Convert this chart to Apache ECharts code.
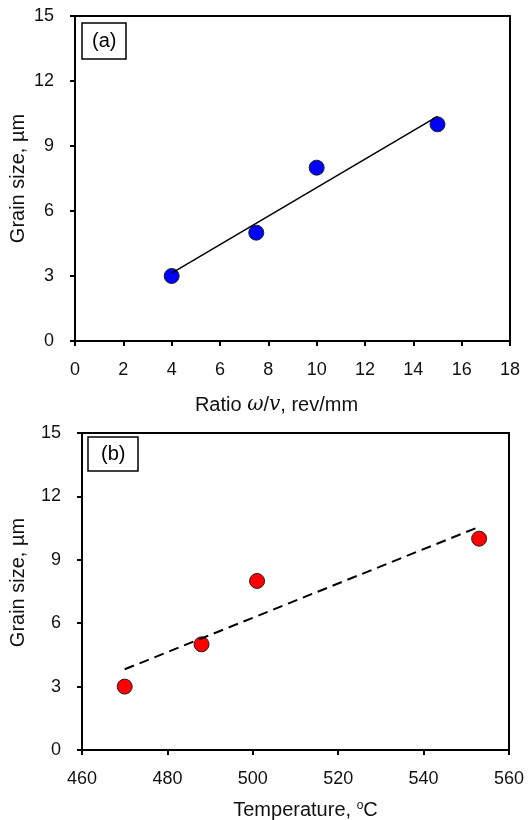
<!DOCTYPE html>
<html>
<head>
<meta charset="utf-8">
<script src="https://cdn.jsdelivr.net/npm/echarts@6/dist/echarts.min.js"></script>
<style>
  html, body { margin: 0; padding: 0; background: #fff; }
  #chart { width: 528px; height: 820px; }
</style>
</head>
<body>
<div id="chart"></div>
<script>
// panel (a): grain size vs ratio
var ratio = [4, 7.5, 10, 15];
var grainA = [3, 5, 8, 10];
var trendA = [[4, 3.13], [15, 10.37]];

// panel (b): grain size vs temperature
var temperature = [470, 488, 501, 553];
var grainB = [3, 5, 8, 10];
var trendB = [[470, 3.82], [553, 10.56]];

var 字体 = 'Liberation Sans';

function 点(xs, ys) {
    var arr = [];
    for (var i = 0; i < xs.length; i++) arr.push([xs[i], ys[i]]);
    return arr;
}

function 坐标轴(opt) {
    return {
        type: 'value',
        gridIndex: opt.grid,
        min: opt.min,
        max: opt.max,
        interval: opt.interval,
        name: opt.name,
        nameLocation: 'middle',
        nameGap: opt.nameGap,
        nameRotate: opt.rotate,
        nameMoveOverlap: false,
        nameTextStyle: { fontFamily: 字体, fontSize: 20, color: '#111', rich: opt.rich, padding: opt.pad || 0 },
        axisLine: { show: true, onZero: false, lineStyle: { color: '#000', width: 2 } },
        axisTick: { show: true, inside: false, length: 5, lineStyle: { color: '#000', width: 2 } },
        axisLabel: { fontFamily: 字体, fontSize: 18, color: '#111', margin: opt.margin },
        splitLine: { show: false }
    };
}

var myChart = echarts.init(document.getElementById('chart'));

var option = {
    animation: false,
    backgroundColor: '#fff',
    title: [
        {
            text: '(a)', left: 82, top: 23,
            padding: [8, 10, 8, 10],
            borderColor: '#000', borderWidth: 1.5,
            textStyle: { fontFamily: 字体, fontSize: 20, fontWeight: 'normal', color: '#000' }
        },
        {
            text: '(b)', left: 88, top: 437,
            padding: [7, 13, 7, 13],
            borderColor: '#000', borderWidth: 1.5,
            textStyle: { fontFamily: 字体, fontSize: 20, fontWeight: 'normal', color: '#000' }
        }
    ],
    grid: [
        { left: 75, top: 16, width: 435, height: 325, show: true, borderColor: '#000', borderWidth: 2,
          containLabel: false, outerBoundsMode: 'none' },
        { left: 82, top: 433, width: 427, height: 317, show: true, borderColor: '#000', borderWidth: 2,
          containLabel: false, outerBoundsMode: 'none' }
    ],
    xAxis: [
        坐标轴({ grid: 0, min: 0, max: 18, interval: 2, nameGap: 54, margin: 20, pad: [0, 32, 0, 0],
            name: 'Ratio {i|ω}/{i|v}, rev/mm',
            rich: { i: { fontFamily: 'DejaVu Serif', fontStyle: 'italic', fontSize: 20, color: '#111' } } }),
        坐标轴({ grid: 1, min: 460, max: 560, interval: 20, nameGap: 50, margin: 20, pad: [0, 0, 0, 20],
            name: 'Temperature, {s|o}C',
            rich: { s: { fontFamily: 字体, fontSize: 12, verticalAlign: 'top', padding: [0, 0, 9, 0], color: '#111' } } })
    ],
    yAxis: [
        坐标轴({ grid: 0, min: 0, max: 15, interval: 3, nameGap: 47, margin: 21, rotate: 90,
            name: 'Grain size, µm' }),
        坐标轴({ grid: 1, min: 0, max: 15, interval: 3, nameGap: 54, margin: 21, rotate: 90, pad: [0, 0, 0, 18],
            name: 'Grain size, µm' })
    ],
    series: [
        {
            type: 'line', xAxisIndex: 0, yAxisIndex: 0,
            data: trendA, symbol: 'none', silent: true,
            lineStyle: { color: '#000', width: 1.5 }
        },
        {
            type: 'scatter', xAxisIndex: 0, yAxisIndex: 0,
            data: 点(ratio, grainA), symbolSize: 15,
            itemStyle: { color: '#0000ff', opacity: 1, borderColor: '#222', borderWidth: 1 }
        },
        {
            type: 'line', xAxisIndex: 1, yAxisIndex: 1,
            data: trendB, symbol: 'none', silent: true,
            lineStyle: { color: '#000', width: 2, type: [10, 6] }
        },
        {
            type: 'scatter', xAxisIndex: 1, yAxisIndex: 1,
            data: 点(temperature, grainB), symbolSize: 15,
            itemStyle: { color: '#ff0000', opacity: 1, borderColor: '#222', borderWidth: 1 }
        }
    ]
};

myChart.setOption(option);
</script>
</body>
</html>
